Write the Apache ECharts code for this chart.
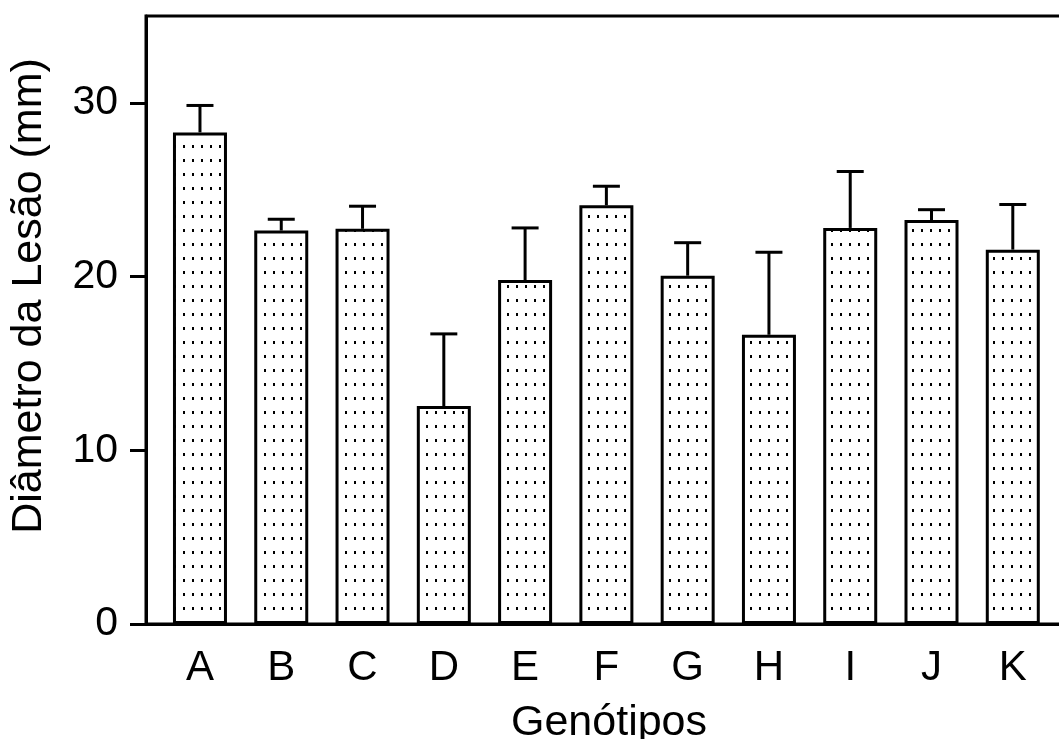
<!DOCTYPE html>
<html>
<head>
<meta charset="UTF-8">
<title>Diâmetro da Lesão</title>
<script src="https://cdn.jsdelivr.net/npm/echarts@6/dist/echarts.min.js"></script>
<style>
  html, body { margin: 0; padding: 0; background: #fff; }
  #main { width: 1059px; height: 739px; }
</style>
</head>
<body>
<div id="main"></div>
<script>
// genótipos e médias (mm) com erro padrão
var genotipos = ['A', 'B', 'C', 'D', 'E', 'F', 'G', 'H', 'I', 'J', 'K'];
var medias = [28.3, 22.65, 22.75, 12.55, 19.8, 24.1, 20.05, 16.65, 22.8, 23.25, 21.55];
var erros = [1.55, 0.65, 1.3, 4.15, 3.0, 1.1, 1.9, 4.75, 3.25, 0.6, 2.6];
var yTicks = [0, 10, 20, 30];

var fonte = '"Liberation Sans", Arial, sans-serif';

// padrão pontilhado das barras
var pat = document.createElement('canvas');
pat.width = 9; pat.height = 14;
var ctx = pat.getContext('2d');
ctx.fillStyle = '#fff';
ctx.fillRect(0, 0, 9, 14);
ctx.fillStyle = '#000';
ctx.fillRect(3, 5, 2, 3);

var barData = medias.map(function (v, i) { return [i, v]; });
var errData = medias.map(function (v, i) { return [i, v, v + erros[i]]; });

var myChart = echarts.init(document.getElementById('main'));
var option = {
  animation: false,
  grid: {
    left: 146, right: -5, top: 16, bottom: 115,
    outerBoundsMode: 'none',
    containLabel: false,
    show: true, borderColor: '#000', borderWidth: 3, backgroundColor: 'transparent'
  },
  xAxis: {
    type: 'value',
    min: -0.664,
    max: 10.63,
    name: 'Genótipos',
    nameLocation: 'middle',
    nameGap: 78,
    nameTextStyle: { fontSize: 43, fontFamily: fonte, color: '#000', padding: [0, 0, 0, 8] },
    axisLine: { show: true, onZero: false, lineStyle: { color: '#000', width: 3 } },
    axisTick: { show: false },
    splitLine: { show: false },
    axisLabel: {
      customValues: genotipos.map(function (c, i) { return i; }),
      formatter: function (v) { return genotipos[Math.round(v)]; },
      fontSize: 42, fontFamily: fonte, color: '#000', margin: 23
    }
  },
  yAxis: {
    type: 'value',
    min: 0,
    max: 35,
    name: 'Diâmetro da Lesão (mm)',
    nameLocation: 'middle',
    nameGap: 95,
    nameTextStyle: { fontSize: 43, fontFamily: fonte, color: '#000', padding: [0, 0, 0, 48] },
    axisLine: { show: true, onZero: false, lineStyle: { color: '#000', width: 3 } },
    axisTick: { show: true, customValues: yTicks, length: 16, lineStyle: { color: '#000', width: 3 } },
    splitLine: { show: false },
    axisLabel: { customValues: yTicks, fontSize: 41, fontFamily: fonte, color: '#000', margin: 28 }
  },
  series: [
    {
      type: 'bar',
      data: barData,
      barWidth: 54,
      itemStyle: {
        color: { image: pat, repeat: 'repeat' },
        borderColor: '#000',
        borderWidth: 3
      }
    },
    {
      type: 'custom',
      data: errData,
      z: 5,
      renderItem: function (params, api) {
        var base = api.coord([api.value(0), api.value(1)]);
        var top = api.coord([api.value(0), api.value(2)]);
        var half = 13.5;
        var style = { stroke: '#000', lineWidth: 3 };
        return {
          type: 'group',
          children: [
            { type: 'line', shape: { x1: base[0], y1: base[1], x2: top[0], y2: top[1] }, style: style },
            { type: 'line', shape: { x1: top[0] - half, y1: top[1], x2: top[0] + half, y2: top[1] }, style: style }
          ]
        };
      }
    }
  ]
};
myChart.setOption(option);
</script>
</body>
</html>
